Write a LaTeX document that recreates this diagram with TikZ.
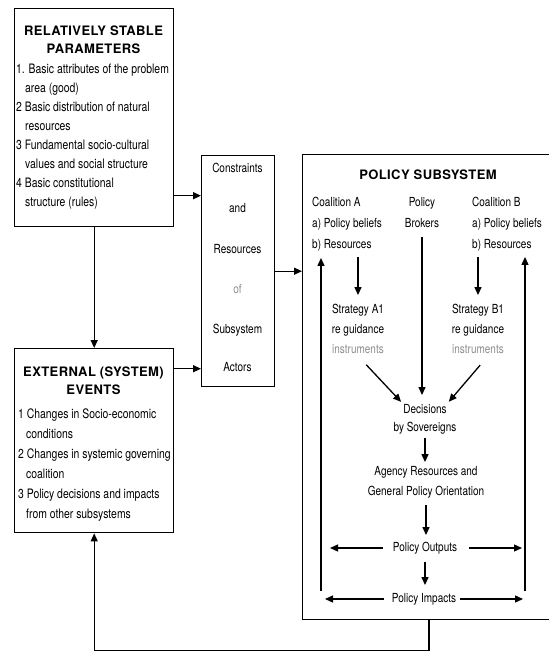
\documentclass[tikz,border=0pt]{standalone}
\usepackage{fontspec}
\setmainfont{TeX Gyre Heros}[FakeStretch=0.8]
\newfontfamily\titlefont{TeX Gyre Heros}[LetterSpace=3]
\usetikzlibrary{arrows.meta}
\tikzset{
  box/.style={draw, line width=1.4pt, inner sep=0pt, anchor=north west},
  txt/.style={font=\fontsize{12.5}{14}\selectfont, inner sep=0pt, text height=9pt, text depth=2.5pt},
  item/.style={font=\fontsize{13}{15}\selectfont, inner sep=0pt, text height=9.5pt, text depth=2.5pt, anchor=west},
  ttl/.style={font=\titlefont\bfseries\fontsize{13}{15}\selectfont, inner sep=0pt, text height=9.5pt, text depth=0pt},
  faded/.style={text=black!45},
  arr/.style={line width=1.3pt, -{Triangle[length=8pt,width=7pt]}},
}
\begin{document}
\begin{tikzpicture}[x=1pt,y=-1pt]
\useasboundingbox (0,0) rectangle (549,651);

% ---------- boxes ----------
\node[box, minimum width=159pt, minimum height=218pt] (rsp) at (14,8) {};
\node[box, minimum width=159pt, minimum height=184pt] (ext) at (14,348) {};
\node[box, minimum width=73pt, minimum height=231pt] (cons) at (201,155) {};
\node[box, minimum width=270pt, minimum height=465pt] (pol) at (302,154) {};

% ---------- relatively stable parameters ----------
\node[ttl] (rspT1) at (93.5,31) {RELATIVELY STABLE};
\node[ttl] (rspT2) at (93.5,49) {PARAMETERS};
\node[item] (r1) at (16,70)  {1. Basic attributes of the problem};
\node[item] (r2) at (25,89)  {area (good)};
\node[item] (r3) at (16,108) {2 Basic distribution of natural};
\node[item] (r4) at (25,127) {resources};
\node[item] (r5) at (16,146) {3 Fundamental socio-cultural};
\node[item] (r6) at (25,165) {values and social structure};
\node[item] (r7) at (16,184) {4 Basic constitutional};
\node[item] (r8) at (25,203) {structure (rules)};

% ---------- external events ----------
\node[ttl] (extT1) at (93.5,372) {EXTERNAL (SYSTEM)};
\node[ttl] (extT2) at (93.5,390) {EVENTS};
\node[item] (e1) at (18,415) {1 Changes in Socio-economic};
\node[item] (e2) at (26,435) {conditions};
\node[item] (e3) at (18,455) {2 Changes in systemic governing};
\node[item] (e4) at (26,475) {coalition};
\node[item] (e5) at (18,495) {3 Policy decisions and impacts};
\node[item] (e6) at (26,515) {from other subsystems};

% ---------- constraints ----------
\node[txt] (c1) at (237.5,169) {Constraints};
\node[txt] (c2) at (237.5,209) {and};
\node[txt] (c3) at (237.5,250) {Resources};
\node[txt, faded] (c4) at (237.5,290) {of};
\node[txt] (c5) at (237.5,330) {Subsystem};
\node[txt] (c6) at (237.5,368) {Actors};

% ---------- policy subsystem ----------
\node[ttl] (polT) at (428,175) {POLICY SUBSYSTEM};
\node[txt, anchor=west] (coalA1) at (312,203) {Coalition A};
\node[txt, anchor=west] (coalA2) at (312,224) {a) Policy beliefs};
\node[txt, anchor=west] (coalA3) at (312,245) {b) Resources};
\node[txt] (brok1) at (422,203) {Policy};
\node[txt] (brok2) at (422,224) {Brokers};
\node[txt, anchor=west] (coalB1) at (472,203) {Coalition B};
\node[txt, anchor=west] (coalB2) at (472,224) {a) Policy beliefs};
\node[txt, anchor=west] (coalB3) at (472,245) {b) Resources};

\node[txt] (stratA1) at (358,310) {Strategy A1};
\node[txt] (stratA2) at (358,330) {re guidance};
\node[txt, faded] (stratA3) at (358,350) {instruments};
\node[txt] (stratB1) at (478,310) {Strategy B1};
\node[txt] (stratB2) at (478,330) {re guidance};
\node[txt, faded] (stratB3) at (478,350) {instruments};

\node[txt] (dec1) at (425,410) {Decisions};
\node[txt] (dec2) at (425,428) {by Sovereigns};
\node[txt] (ag1) at (426,472) {Agency Resources and};
\node[txt] (ag2) at (426,492) {General Policy Orientation};
\node[txt] (out) at (425,548) {Policy Outputs};
\node[txt] (imp) at (424,599) {Policy Impacts};

\coordinate (lb) at (321,591);
\coordinate (rb) at (525,591);

% ---------- connectors (outer) ----------
\draw[arr] (rsp.south) -- (ext.north);
\draw[arr] ([yshift=-78pt]rsp.east) coordinate (p1) -- (p1 -| cons.west);
\draw[arr] ([yshift=72pt]ext.east) coordinate (p2) -- (p2 -| cons.west);
\draw[arr] (cons.east) -- (cons.east -| pol.west);
\draw[arr] ([xshift=127pt]pol.south west) -- ++(0,30) -| (ext.south);

% ---------- connectors (inner) ----------
\draw[arr, shorten <=6pt, shorten >=9pt] (coalA3.south -| stratA1.north) -- (stratA1.north);
\draw[arr, shorten <=6pt, shorten >=9pt] (coalB3.south -| stratB1.north) -- (stratB1.north);
\draw[arr, shorten <=7pt, shorten >=9pt] (brok2.south) -- (brok2.south |- dec1.north);
\draw[arr, shorten <=12pt, shorten >=3pt] (stratA3.south) -- (dec1.north west);
\draw[arr, shorten <=12pt, shorten >=3pt] ([xshift=10pt]stratB3.south) -- (dec1.north east);
\draw[arr, shorten <=4pt, shorten >=4pt] (dec2.south) -- (dec2.south |- ag1.north);
\draw[arr, shorten <=7pt, shorten >=7pt] (ag2.south) -- (ag2.south |- out.north);
\draw[arr, shorten <=8pt, shorten >=8pt] (out.south) -- (out.south |- imp.north);

\draw[arr, shorten <=10pt, shorten >=9pt] (out.west) -- (out.west -| lb);
\draw[arr, shorten <=12pt, shorten >=3pt] (out.east) -- (out.east -| rb);
\draw[arr, shorten <=8pt, shorten >=4pt] (imp.west) -- (imp.west -| lb);
\draw[arr, shorten <=4pt, shorten >=2pt] (imp.east) -- (imp.east -| rb);

\draw[arr, shorten >=7pt] (lb) -- (lb |- coalA3.south);
\draw[arr, shorten >=6pt] (rb) -- (rb |- coalB3.south);
\end{tikzpicture}
\end{document}
